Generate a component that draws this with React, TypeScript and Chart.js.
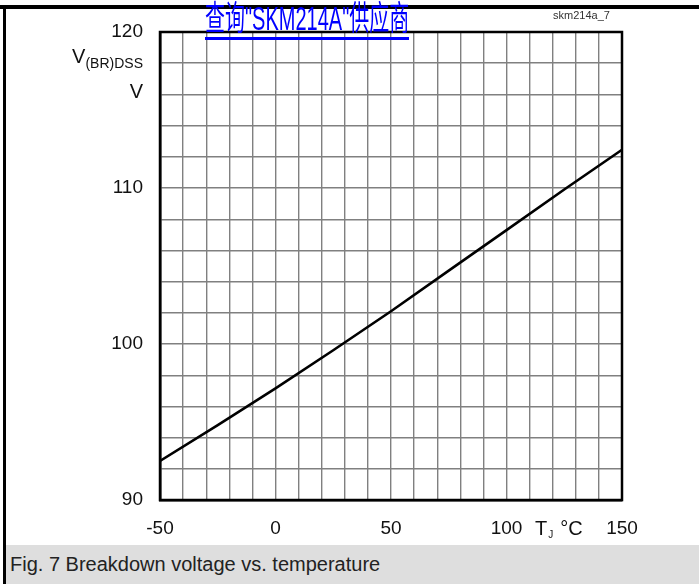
import React, { useEffect, useRef } from "react";
import { Chart, registerables } from "chart.js";

Chart.register(...registerables);

const temperatures = [-50, -25, 0, 25, 50, 75, 100, 125, 150];
const breakdownVoltage = [92.5, 94.8, 97.15, 99.6, 102.1, 104.7, 107.3, 109.9, 112.45];
const yLabelValues = [90, 100, 110, 120];
const xLabelValues = [-50, 0, 50, 100, 150];

const framePlugin = {
  id: "frame",
  afterDraw(chart: any) {
    const { ctx, chartArea } = chart;
    ctx.save();
    ctx.strokeStyle = "#000";
    ctx.lineWidth = 2.5;
    ctx.strokeRect(chartArea.left, chartArea.top, chartArea.right - chartArea.left, chartArea.bottom - chartArea.top);
    ctx.restore();
  },
};

export default function App() {
  const ref = useRef<HTMLCanvasElement | null>(null);
  useEffect(() => {
    if (!ref.current) return;
    const chart = new Chart(ref.current, {
      type: "scatter",
      data: {
        datasets: [
          {
            data: temperatures.map((t, i) => ({ x: t, y: breakdownVoltage[i] })),
            showLine: true,
            borderColor: "#000",
            borderWidth: 2.6,
            pointRadius: 0,
            fill: false,
          },
        ],
      },
      options: {
        animation: false,
        responsive: false,
        maintainAspectRatio: false,
        layout: { padding: { top: 32, right: 77, left: 0, bottom: 0 } },
        plugins: { legend: { display: false }, tooltip: { enabled: false }, title: { display: false } },
        scales: {
          x: {
            type: "linear",
            min: -50,
            max: 150,
            afterFit: (s: any) => {
              s.height = 84;
            },
            grid: { color: "#808080", lineWidth: 1.4, drawTicks: false },
            border: { display: true, color: "#000", width: 2.5 },
            ticks: {
              stepSize: 10,
              autoSkip: false,
              maxRotation: 0,
              padding: 17,
              color: "#111",
              font: { family: "'Liberation Sans', Arial, sans-serif", size: 19 },
              callback: (v: any) => (xLabelValues.includes(Number(v)) ? String(v) : ""),
            },
          },
          y: {
            type: "linear",
            min: 90,
            max: 120,
            afterFit: (s: any) => {
              s.width = 160;
            },
            grid: { color: "#808080", lineWidth: 1.4, drawTicks: false },
            border: { display: true, color: "#000", width: 2.5 },
            ticks: {
              stepSize: 2,
              autoSkip: false,
              padding: 17,
              color: "#111",
              font: { family: "'Liberation Sans', Arial, sans-serif", size: 19 },
              callback: (v: any) => (yLabelValues.includes(Number(v)) ? String(v) : ""),
            },
          },
        },
      },
      plugins: [framePlugin],
    });
    return () => chart.destroy();
  }, []);

  const sans = "'Liberation Sans', Arial, sans-serif";
  return (
    <div
      style={{
        position: "absolute",
        left: 0,
        top: 0,
        width: 699,
        height: 584,
        background: "#fff",
        overflow: "hidden",
        fontFamily: sans,
      }}
    >
      <canvas ref={ref} width={699} height={584} style={{ position: "absolute", left: 0, top: 0, width: 699, height: 584 }} />
      <div style={{ position: "absolute", left: 0, top: 5, width: 699, height: 4, background: "#000" }} />
      <div style={{ position: "absolute", left: 3, top: 5, width: 3, height: 579, background: "#000" }} />
      <div style={{ position: "absolute", left: 205, top: 0, height: 42, whiteSpace: "nowrap" }}>
        <div
          style={{
            position: "relative",
            top: -2.2,
            fontSize: 20,
            lineHeight: "24px",
            color: "#0000ff",
            transform: "scaleY(1.7)",
            transformOrigin: "0 0",
            fontFamily: "'Liberation Sans', Arial, 'Noto Sans CJK SC', sans-serif",
          }}
        >
          查询"SKM214A"供应商
        </div>
        <div style={{ position: "absolute", left: 0, right: 0, top: 37, height: 3, background: "#0000ff" }} />
      </div>
      <div style={{ position: "absolute", left: 553, top: 9, fontSize: 11, color: "#333", whiteSpace: "nowrap" }}>skm214a_7</div>
      <div
        style={{
          position: "absolute",
          right: 699 - 143,
          top: 44,
          fontSize: 20,
          color: "#111",
          whiteSpace: "nowrap",
          textAlign: "right",
          lineHeight: "24px",
        }}
      >
        V<sub style={{ fontSize: 14, verticalAlign: "-5px" }}>(BR)DSS</sub>
      </div>
      <div style={{ position: "absolute", right: 699 - 143, top: 79, fontSize: 20, color: "#111", lineHeight: "24px" }}>V</div>
      <div style={{ position: "absolute", left: 535, top: 516, fontSize: 20, color: "#111", whiteSpace: "nowrap", lineHeight: "24px" }}>
        T<sub style={{ fontSize: 10, verticalAlign: "-3px", marginLeft: 1 }}>J</sub>
        <span style={{ marginLeft: 7 }}>°C</span>
      </div>
      <div
        style={{
          position: "absolute",
          left: 6,
          top: 545,
          width: 693,
          height: 39,
          background: "#dedede",
          fontSize: 20,
          lineHeight: "39px",
          paddingLeft: 4,
          color: "#222",
          whiteSpace: "nowrap",
        }}
      >
        Fig. 7 Breakdown voltage vs. temperature
      </div>
    </div>
  );
}
